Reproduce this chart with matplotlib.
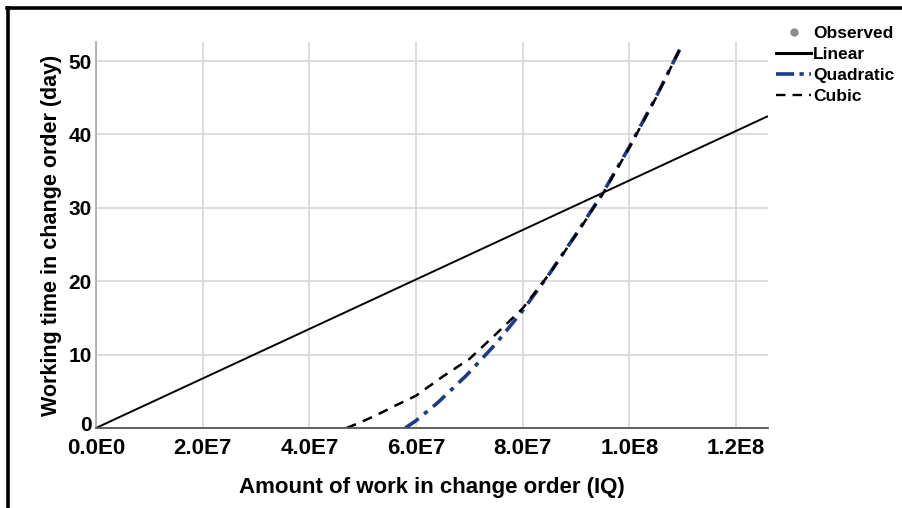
import matplotlib.pyplot as plt
import matplotlib.transforms as mtransforms
from matplotlib.lines import Line2D

# values (x in IQ units, y in days)
lin_x = [0.0, 1.26e8]
lin_y = [0.0, 42.5]

quad_x = [5.80e7, 6.0e7, 6.4e7, 6.95e7, 7.5e7, 8.0e7, 8.5e7, 9.0e7, 9.5e7,
          1.0e8, 1.05e8, 1.10e8]
quad_y = [0.0, 1.0, 3.4, 7.2, 11.5, 16.0, 21.0, 26.4, 32.0, 38.3, 45.1, 52.4]

cub_x = [4.70e7, 5.0e7, 5.3e7, 5.6e7, 6.0e7, 6.5e7, 7.0e7, 7.5e7, 8.0e7,
         8.5e7, 9.0e7, 9.5e7, 1.0e8, 1.05e8, 1.10e8]
cub_y = [0.0, 0.9, 1.9, 3.0, 4.4, 7.0, 9.4, 12.8, 16.3, 21.0, 26.3, 31.9,
         38.2, 45.0, 52.4]

xticks = [0, 2e7, 4e7, 6e7, 8e7, 1e8, 1.2e8]
xtick_labels = ["0.0E0", "2.0E7", "4.0E7", "6.0E7", "8.0E7", "1.0E8", "1.2E8"]
yticks = [0, 10, 20, 30, 40, 50]

plt.rcParams['font.family'] = ['Liberation Sans', 'DejaVu Sans']

fig = plt.figure(figsize=(9.03, 5.08), dpi=100)
ax = fig.add_axes([0.1063, 0.1575, 0.7442, 0.7598])

navy = "#1b3a8c"
ax.plot(lin_x, lin_y, color="black", lw=1.4, solid_capstyle="butt")
ax.plot(quad_x, quad_y, color=navy, lw=2.6, dashes=(4.5, 2.0, 1.2, 2.0))
ax.plot(cub_x, cub_y, color="black", lw=1.8, dashes=(4, 3))

ax.set_xlim(0, 1.26e8)
ax.set_ylim(0, 52.6)
ax.set_xticks(xticks)
ax.set_xticklabels(xtick_labels)
ax.set_yticks(yticks)
ax.grid(True, color="#d6d6d6", lw=1.2)
ax.set_axisbelow(True)

for s in ["top", "right"]:
    ax.spines[s].set_visible(False)
ax.spines["left"].set_color("#a8a8a8")
ax.spines["left"].set_linewidth(1.2)
ax.spines["bottom"].set_color("#555555")
ax.spines["bottom"].set_linewidth(1.3)

ax.tick_params(length=0)
ax.tick_params(axis="y", pad=3)
ax.tick_params(axis="x", pad=7)
for t in ax.get_yticklabels():
    t.set_fontsize(15)
    t.set_fontweight("bold")
for t in ax.get_xticklabels():
    t.set_fontsize(16)
    t.set_fontweight("bold")
# nudge the "0" on the y axis up a little so it clears the first x label
lbl0 = ax.get_yticklabels()[0]
lbl0.set_transform(lbl0.get_transform() +
                   mtransforms.ScaledTranslation(0, 3.5 / 72, fig.dpi_scale_trans))

ax.set_xlabel("Amount of work in change order (IQ)", fontsize=16,
              fontweight="bold", labelpad=13)
ax.set_ylabel("Working time in change order (day)", fontsize=15.5,
              fontweight="bold", labelpad=5)

handles = [
    Line2D([], [], ls="none", marker="o", ms=5, color="#8c8c8c"),
    Line2D([], [], color="black", lw=2.2),
    Line2D([], [], color=navy, lw=2.6, dashes=(5, 1.5, 1.2, 1.5)),
    Line2D([], [], color="black", lw=1.7, dashes=(4, 3)),
]
labels = ["Observed", "Linear", "Quadratic", "Cubic"]
fig.legend(handles, labels, loc="upper left", bbox_to_anchor=(0.852, 0.962),
           frameon=False, handlelength=2.0, handletextpad=0.1,
           labelspacing=0.33, borderaxespad=0,
           prop={"weight": "bold", "size": 12.5})

# black frame on left and top of the screenshot
fig.add_artist(Line2D([0.0094, 0.0094], [0.0, 0.984], color="black", lw=2.6,
                      transform=fig.transFigure))
fig.add_artist(Line2D([0.0081, 1.0], [0.984, 0.984], color="black", lw=2.6,
                      transform=fig.transFigure))

fig.savefig("out.png", dpi=100)
